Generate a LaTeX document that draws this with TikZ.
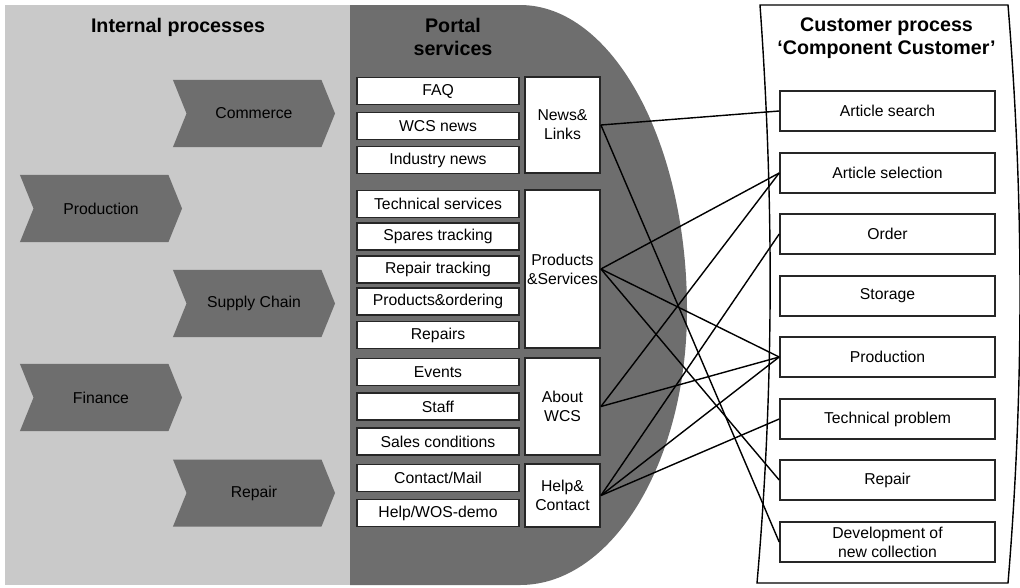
\documentclass[tikz,border=0pt]{standalone}
\usepackage{fontspec}
\setmainfont{Liberation Sans}
\usetikzlibrary{shapes.symbols}

\definecolor{panelgray}{gray}{0.79}
\definecolor{portalgray}{gray}{0.43}

\begin{document}
\begin{tikzpicture}[
        x=0.025cm, y=-0.025cm,
        font=\fontsize{11.2}{13.5}\selectfont,
        title/.style={font=\fontsize{14}{16.3}\selectfont\bfseries, align=center},
        chev/.style={signal, signal from=west, signal to=east, signal pointer angle=136, fill=portalgray, minimum width=4.05cm, minimum height=1.675cm, inner sep=0pt},
        svc/.style={draw=black!85, line width=1.3pt, fill=white, minimum width=4.05cm, minimum height=0.675cm, inner sep=0pt},
        grp/.style={draw=black!85, line width=1.3pt, fill=white, minimum width=1.875cm, align=center, inner sep=0pt},
        cust/.style={draw=black!85, line width=1.1pt, fill=white, minimum width=5.375cm, minimum height=1cm, align=center, inner sep=0pt},
        link/.style={line width=1pt}
    ]
        \useasboundingbox (0,0) rectangle (1020,587);

        % ========================================================
        % FONDOS
        % ========================================================
        \fill[panelgray] (5,5) rectangle (350,585);
        \fill[portalgray] (350,5) -- (520,5)
            arc[start angle=-90, end angle=0, x radius=167, y radius=305]
            arc[start angle=0, end angle=90, x radius=167, y radius=275]
            -- (350,585) -- cycle;

        % ========================================================
        % PROCESOS INTERNOS
        % ========================================================
        \node[title] (tint) at (178,27) {Internal processes};

        \node[chev] (commerce) at (254,113.5) {Commerce};
        \node[chev] (production) at (101,208.5) {Production};
        \node[chev] (supply) at (254,303.5) {Supply Chain};
        \node[chev] (finance) at (101,397.5) {Finance};
        \node[chev] (repairproc) at (254,493) {Repair};

        % ========================================================
        % SERVICIOS DEL PORTAL
        % ========================================================
        \node[title] (tportal) at (453,37) {Portal\\services};

        \node[svc] (faq) at (438,91) {FAQ};
        \node[svc] (wcsnews) at (438,126) {WCS news};
        \node[svc] (indnews) at (438,160) {Industry news};
        \node[svc] (techsvc) at (438,204) {Technical services};
        \node[svc] (spares) at (438,236.5) {Spares tracking};
        \node[svc] (reptrack) at (438,269.5) {Repair tracking};
        \node[svc] (prodord) at (438,301.5) {Products\&ordering};
        \node[svc] (repairs) at (438,335) {Repairs};
        \node[svc] (events) at (438,372) {Events};
        \node[svc] (staff) at (438,406.5) {Staff};
        \node[svc] (sales) at (438,441.5) {Sales conditions};
        \node[svc] (contact) at (438,478) {Contact/Mail};
        \node[svc] (helpdemo) at (438,513) {Help/WOS-demo};

        \node[grp, minimum height=2.4cm] (news) at (562.5,125) {News\&\\Links};
        \node[grp, minimum height=3.95cm] (prodsvc) at (562.5,269) {Products\\\&Services};
        \node[grp, minimum height=2.425cm] (about) at (562.5,406.5) {About\\WCS};
        \node[grp, minimum height=1.575cm] (help) at (562.5,495.5) {Help\&\\Contact};

        % ========================================================
        % PROCESO DEL CLIENTE
        % ========================================================
        \draw[line width=1pt] (760,5) -- (1008,5)
            .. controls (1024,200) and (1024,390) .. (1008,583)
            -- (757,583)
            .. controls (774,390) and (774,200) .. (760,5) -- cycle;

        \node[title] (tcust) at (886.5,38.5) {Customer process\\`Component Customer'};

        \node[cust] (artsearch) at (887.5,111) {Article search};
        \node[cust] (artsel) at (887.5,173) {Article selection};
        \node[cust] (order) at (887.5,234) {Order};
        \node[cust] (storage) at (887.5,296) {Storage};
        \node[cust] (custprod) at (887.5,357) {Production};
        \node[cust] (techprob) at (887.5,419) {Technical problem};
        \node[cust] (custrep) at (887.5,480) {Repair};
        \node[cust, font=\fontsize{11.2}{13.5}\selectfont] (devcol) at (887.5,542) {Development of\\new collection};

        % ========================================================
        % ENLACES
        % ========================================================
        \draw[link] (news.east) -- (artsearch.west);
        \draw[link] (news.east) -- (devcol.west);
        \draw[link] (prodsvc.east) -- (artsel.west);
        \draw[link] (prodsvc.east) -- (custprod.west);
        \draw[link] (prodsvc.east) -- (custrep.west);
        \draw[link] (about.east) -- (artsel.west);
        \draw[link] (about.east) -- (custprod.west);
        \draw[link] (help.east) -- (order.west);
        \draw[link] (help.east) -- (custprod.west);
        \draw[link] (help.east) -- (techprob.west);

    \end{tikzpicture}
\end{document}
